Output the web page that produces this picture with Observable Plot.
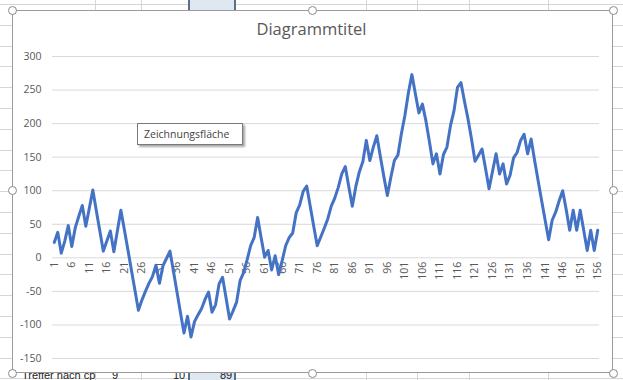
<!DOCTYPE html>
<html>
<head>
<meta charset="utf-8">
<script src="https://cdn.jsdelivr.net/npm/d3@7"></script>
<script src="https://cdn.jsdelivr.net/npm/@observablehq/plot@0.6"></script>
<style>
  html, body { margin:0; padding:0; background:#fff; }
  #sheet { position:relative; width:623px; height:380px; overflow:hidden;
    font-family:"Open Sans", "Noto Sans", sans-serif;
    background-image: repeating-linear-gradient(to bottom, transparent 0px, transparent 4px, #d6d6d6 4px, #d6d6d6 5px, transparent 5px, transparent 20.8px);
  }
  .vline { position:absolute; top:0; width:1px; height:380px; background:#d6d6d6; }
  .selcol { position:absolute; top:0; left:188px; width:48px; height:380px; background:#dfe7f1; border-left:2px solid #5b6f86; border-right:2px solid #5b6f86; box-sizing:border-box; }
  .celltxt { position:absolute; top:368px; font-family:"Liberation Sans", sans-serif; font-size:11px; color:#222; line-height:14px; white-space:nowrap; }
  #chartbox { position:absolute; left:12px; top:10px; width:601px; height:363px; background:#fff; border:1px solid #9a9a9a; box-sizing:border-box; }
  #plot { position:absolute; left:0; top:0; }
  #title { position:absolute; left:0; width:623px; top:19px; height:20px; line-height:20px; text-align:center; font-size:16.5px; color:#595959; }
  #tip { position:absolute; left:137px; top:123px; width:106px; height:22px; background:#fff; border:1px solid #7a7a7a; box-sizing:border-box; box-shadow:2px 2px 2px rgba(0,0,0,0.35); font-size:10.5px; color:#444; line-height:20px; padding-left:6px; }
  .handle { position:absolute; width:9px; height:9px; border-radius:50%; background:#fff; border:1.5px solid #8a8a8a; box-sizing:border-box; }
</style>
</head>
<body>
<div id="sheet">
  <div class="vline" style="left:95px"></div>
  <div class="vline" style="left:141px"></div>
  <div class="vline" style="left:366px"></div>
  <div class="vline" style="left:417px"></div>
  <div class="vline" style="left:469px"></div>
  <div class="vline" style="left:548px"></div>
  <div class="selcol"></div>
  <div class="celltxt" style="left:22px">Treffer nach cp</div>
  <div class="celltxt" style="left:112px">9</div>
  <div class="celltxt" style="left:173px">10</div>
  <div class="celltxt" style="left:220px">89</div>
  <div id="chartbox"></div>
  <div id="plot"></div>
  <div id="title">Diagrammtitel</div>
  <div id="tip">Zeichnungsfläche</div>
</div>
<script>
// Categories 1..156
const categories = Array.from({length: 156}, (_, i) => i + 1);

// Series values
const values = [
  23, 38, 7, 25, 48, 17, 45, 62, 78, 47,
  74, 101, 70, 40, 10, 25, 40, 9, 40, 71,
  42, 12, -18, -48, -78, -63, -50, -38, -28, -11,
  -38, -12, -1, 10, -20, -51, -82, -112, -87, -118,
  -95, -85, -76, -62, -51, -81, -70, -39, -29, -60,
  -91, -79, -66, -34, -22, -3, 18, 30, 60, 30,
  1, 11, -18, 3, -25, -4, 18, 30, 37, 67,
  79, 99, 107, 77, 47, 18, 31, 44, 58, 77,
  89, 105, 125, 136, 106, 77, 106, 128, 143, 175,
  145, 165, 182, 151, 121, 93, 120, 145, 153, 185,
  212, 246, 273, 244, 216, 229, 204, 173, 140, 155,
  125, 154, 165, 197, 219, 254, 261, 233, 207, 177,
  144, 153, 162, 133, 103, 129, 155, 125, 140, 110,
  123, 149, 157, 175, 184, 155, 177, 145, 115, 85,
  56, 27, 56, 68, 85, 100, 72, 41, 71, 41,
  71, 41, 11, 41, 11, 41
];

// Tick labels
const yTicks = [-150, -100, -50, 0, 50, 100, 150, 200, 250, 300];
const xTickLabels = [1, 6, 11, 16, 21, 26, 31, 36, 41, 46, 51, 56, 61, 66, 71, 76, 81, 86, 91, 96, 101, 106, 111, 116, 121, 126, 131, 136, 141, 146, 151, 156];

const data = categories.map((c, i) => ({cat: c, value: values[i]}));

const chart = Plot.plot({
  width: 623,
  height: 380,
  marginLeft: 52,
  marginRight: 24,
  marginTop: 56,
  marginBottom: 22,
  style: {background: "transparent", fontFamily: "'Open Sans', 'Noto Sans', sans-serif", overflow: "visible"},
  x: {domain: [0.5, 156.5], axis: null},
  y: {domain: [-150, 300], axis: null},
  marks: [
    Plot.ruleY(yTicks, {stroke: "#d9d9d9", strokeWidth: 1}),
    Plot.axisY({ticks: yTicks, tickSize: 0, tickPadding: 11, fontSize: 10.5, color: "#595959", tickFormat: d => String(d), label: null}),
    Plot.text(xTickLabels, {x: d => d, y: 0, text: d => String(d), rotate: -90, textAnchor: "end", lineAnchor: "middle", dy: 4, fontSize: 10.5, fill: "#595959"}),
    Plot.line(data, {x: "cat", y: "value", stroke: "#4472c4", strokeWidth: 3, strokeLinejoin: "round", strokeLinecap: "round"})
  ]
});
document.getElementById("plot").appendChild(chart);

// selection handles
const handles = [[12,10],[312,10],[613,10],[12,190],[613,190],[12,373],[312,373],[613,373]];
const sheet = document.getElementById("sheet");
for (const [hx, hy] of handles) {
  const h = document.createElement("div");
  h.className = "handle";
  h.style.left = (hx - 4.5) + "px";
  h.style.top = (hy - 4.5) + "px";
  sheet.appendChild(h);
}
</script>
</body>
</html>
